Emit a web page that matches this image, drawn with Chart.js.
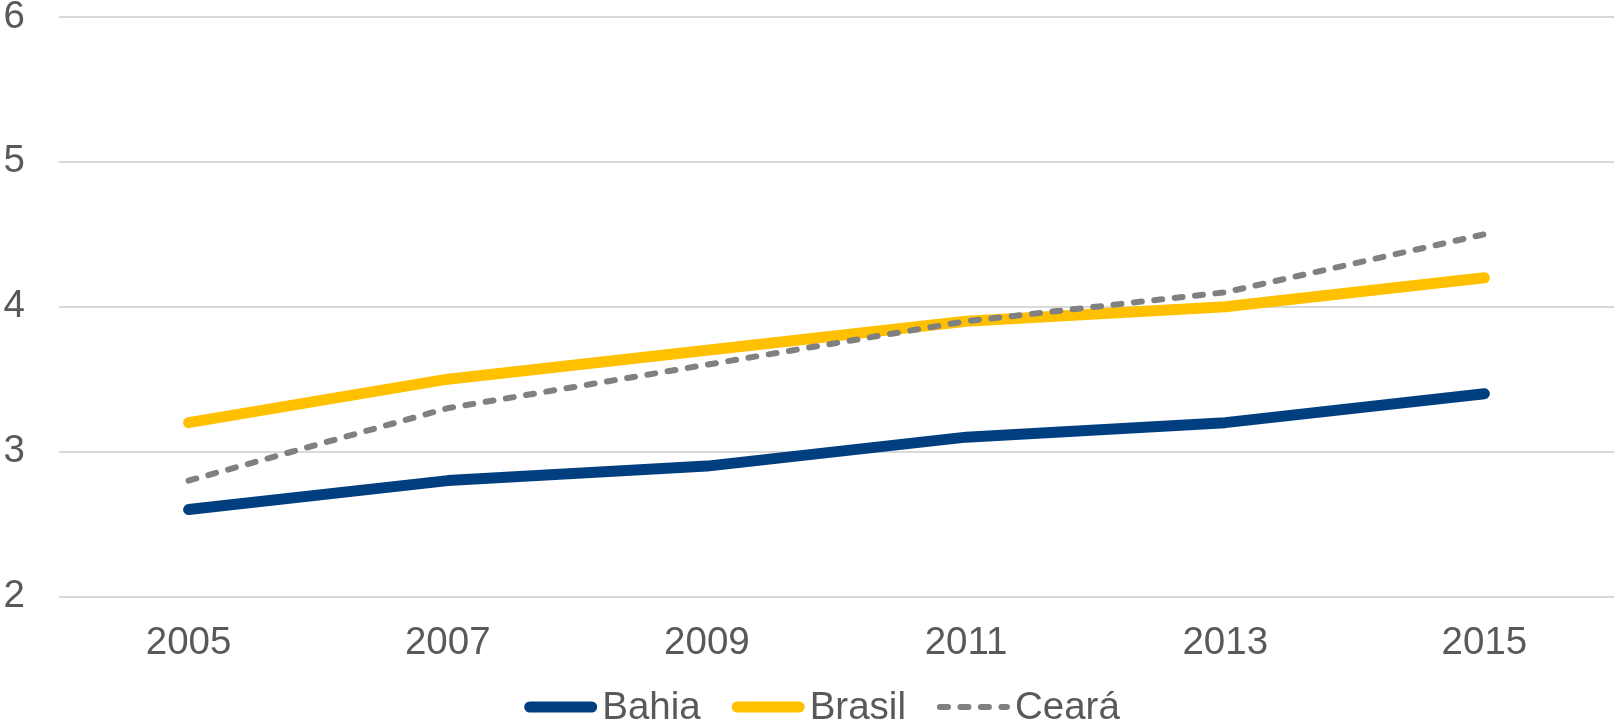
<!DOCTYPE html>
<html>
<head>
<meta charset="utf-8">
<script src="https://cdn.jsdelivr.net/npm/chart.js@4/dist/chart.umd.min.js"></script>
<style>
  html, body { margin: 0; padding: 0; background: #ffffff; }
  #wrap { width: 1614px; height: 728px; position: relative; }
</style>
</head>
<body>
<div id="wrap"><canvas id="chart"></canvas></div>
<script>
// Years on the horizontal axis
const years = ['2005', '2007', '2009', '2011', '2013', '2015'];

// Series values
const bahia  = [2.6, 2.8, 2.9, 3.1, 3.2, 3.4];
const brasil = [3.2, 3.5, 3.7, 3.9, 4.0, 4.2];
const ceara  = [2.8, 3.3, 3.6, 3.9, 4.1, 4.5];

// Vertical axis range and step
const yMin = 2;
const yMax = 6;
const yStep = 1;

const TEXT = '#595959';
const FONT = '"Liberation Sans", Arial, sans-serif';
const FONT_SIZE = 38.5;

// Legend drawn below the axis: a line sample followed by its label
const lineLegend = {
  id: 'lineLegend',
  afterDraw(chart) {
    const ctx = chart.ctx;
    const sample = 73, gapText = 5, gapItem = 31;
    ctx.save();
    ctx.font = FONT_SIZE + 'px ' + FONT;
    const items = chart.data.datasets.map(ds => ({
      ds, w: sample + gapText + ctx.measureText(ds.label).width
    }));
    const total = items.reduce((s, it) => s + it.w, 0) + gapItem * (items.length - 1);
    let x = chart.width / 2 + 15 - total / 2;
    const y = chart.height - 21;
    items.forEach(({ ds, w }) => {
      ctx.beginPath();
      ctx.strokeStyle = ds.borderColor;
      ctx.lineWidth = ds.borderWidth;
      ctx.lineCap = 'round';
      ctx.setLineDash(ds.borderDash || []);
      const inset = ds.borderWidth / 2;
      ctx.moveTo(x + inset, y);
      ctx.lineTo(x + sample - inset, y);
      ctx.stroke();
      ctx.setLineDash([]);
      ctx.fillStyle = TEXT;
      ctx.textAlign = 'left';
      ctx.textBaseline = 'middle';
      ctx.fillText(ds.label, x + sample + gapText, y + 1);
      x += w + gapItem;
    });
    ctx.restore();
  }
};

// Fixed axis band sizes so the plot area sits where the layout padding says
function clearPadding(scale) {
  scale.paddingTop = 0;
  scale.paddingBottom = 0;
  scale.paddingLeft = 0;
  scale.paddingRight = 0;
}

new Chart(document.getElementById('chart'), {
  type: 'line',
  data: {
    labels: years,
    datasets: [
      {
        label: 'Bahia', data: bahia,
        borderColor: '#003F7F', backgroundColor: '#003F7F',
        borderWidth: 11, borderCapStyle: 'round', borderJoinStyle: 'round',
        pointRadius: 0, tension: 0, order: 3
      },
      {
        label: 'Brasil', data: brasil,
        borderColor: '#FFC000', backgroundColor: '#FFC000',
        borderWidth: 11, borderCapStyle: 'round', borderJoinStyle: 'round',
        pointRadius: 0, tension: 0, order: 2
      },
      {
        label: 'Ceará', data: ceara,
        borderColor: '#808080', backgroundColor: '#808080',
        borderWidth: 6, borderDash: [8, 12.5], borderCapStyle: 'round',
        borderJoinStyle: 'round',
        pointRadius: 0, tension: 0, order: 1
      }
    ]
  },
  options: {
    responsive: true,
    maintainAspectRatio: false,
    animation: false,
    layout: { padding: { top: 17, right: 0, bottom: 65, left: 4 } },
    plugins: {
      legend: { display: false },
      tooltip: { enabled: false }
    },
    scales: {
      x: {
        offset: true,
        grid: { display: false, drawTicks: false },
        border: { display: false },
        afterFit(scale) { clearPadding(scale); scale.height = 66.5; },
        ticks: {
          color: TEXT, padding: 28, maxRotation: 0,
          font: { family: FONT, size: FONT_SIZE, lineHeight: 1 }
        }
      },
      y: {
        min: yMin, max: yMax,
        grid: { color: '#D9D9D9', lineWidth: 2, drawTicks: false },
        border: { display: false },
        afterFit(scale) { clearPadding(scale); scale.width = 55; },
        ticks: {
          stepSize: yStep, color: TEXT, padding: 34,
          font: { family: FONT, size: FONT_SIZE, lineHeight: 1 }
        }
      }
    }
  },
  plugins: [lineLegend]
});
</script>
</body>
</html>
